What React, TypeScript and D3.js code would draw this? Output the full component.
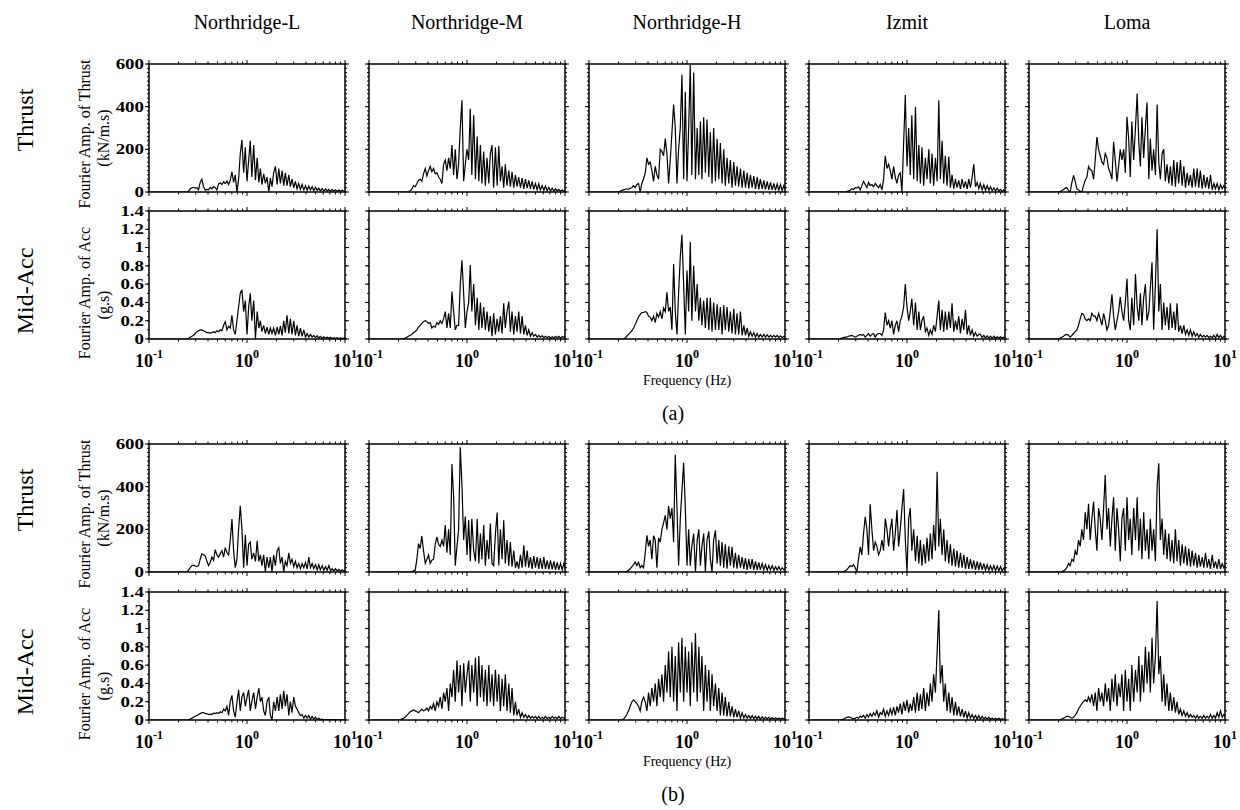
import React from 'react';
import * as d3 from 'd3';

// frequency bins (Hz) shared by all spectra
const freq = [0.1,0.2,0.208,0.216,0.225,0.234,0.243,0.253,0.263,0.274,0.285,0.296,0.308,0.32,0.333,0.346,0.36,0.375,0.39,0.405,0.421,0.438,0.456,0.474,0.493,0.513,0.533,0.555,0.577,0.6,0.624,0.649,0.675,0.702,0.73,0.759,0.79,0.821,0.854,0.888,0.924,0.961,1.0,1.04,1.08,1.12,1.17,1.22,1.27,1.32,1.37,1.42,1.48,1.54,1.6,1.67,1.73,1.8,1.87,1.95,2.03,2.11,2.19,2.28,2.37,2.46,2.56,2.67,2.77,2.88,3.0,3.12,3.24,3.37,3.51,3.65,3.8,3.95,4.11,4.27,4.44,4.62,4.8,5.0,5.2,5.4,5.6,5.85,6.08,6.32,6.58,6.84,7.11,7.4,7.7,8.0,8.32,8.65,9.0,9.36,9.74,10.0];

const events = ['Northridge-L', 'Northridge-M', 'Northridge-H', 'Izmit', 'Loma'];

// (a) thrust, kN/m.s
const thrustA_NL = [0,0,0,0,0,0,0,3,15,20, 22,18,20,10,45,60,25,8,12,10, 22,15,25,20,10,38,42,35,48,40, 52,35,55,95,45,80,0,60,180,245, 90,210,50,150,240,70,220,55,160,45, 110,35,85,40,70,0,65,25,90,120, 35,110,40,100,30,90,30,80,25,60, 20,50,15,40,12,35,10,30,8,28, 10,25,6,22,8,18,5,16,4,14, 5,12,3,12,4,10,3,9,3,8, 3,6];
const thrustA_NM = [0,0,0,0,0,0,0,2,5,15, 30,25,40,55,60,50,85,110,75,100, 120,95,110,85,90,70,60,40,130,150, 100,160,110,220,80,200,60,130,300,430, 50,130,200,150,390,80,360,60,260,50, 220,40,190,30,160,40,180,220,20,210, 30,215,50,120,20,130,30,100,25,95, 20,80,25,70,20,65,15,60,18,55, 15,50,12,40,10,38,10,30,8,28, 6,22,5,18,4,15,5,12,3,10, 4,6];
const thrustA_NH = [0,0,3,8,10,12,15,12,18,20, 30,20,35,40,0,40,60,90,160,130, 140,100,50,120,80,60,200,190,170,250, 180,40,150,280,410,300,40,200,300,550, 60,470,50,300,595,80,560,60,300,80, 330,60,350,90,340,70,280,40,300,50, 250,60,230,40,200,30,160,40,150,20, 140,30,120,25,110,20,100,20,90,15, 80,20,75,15,70,12,60,15,55,12, 50,10,45,10,40,8,38,8,35,6, 30,15];
const thrustA_IZ = [0,0,0,0,0,0,2,5,8,15, 12,20,18,25,10,30,50,35,20,45, 30,35,25,40,30,20,35,10,60,170, 110,130,100,60,120,70,40,80,90,0, 230,455,120,300,80,360,60,400,50,220, 40,210,30,160,60,200,40,180,30,160, 50,430,60,240,40,170,30,165,20,80, 15,60,20,55,15,60,20,50,15,60, 20,70,130,25,45,15,40,10,35,8, 30,8,25,6,20,5,18,4,12,3, 10,5];
const thrustA_LO = [0,0,3,6,12,18,20,8,0,45, 78,50,15,10,3,0,30,55,70,120, 105,100,60,150,258,200,170,140,130,180, 160,110,90,60,235,150,50,120,200,150, 200,90,353,250,70,330,150,300,462,230, 120,350,160,300,420,60,250,100,200,80, 410,140,60,180,200,50,130,40,120,30, 150,25,140,40,150,30,120,20,90,30, 80,20,110,25,110,20,100,15,80,20, 70,15,80,10,40,15,40,10,35,15, 30,20];

// (a) mid-depth acceleration, g.s
const accA_NL = [0,0,0,0,0,0,0,0.005,0.02,0.03, 0.04,0.06,0.08,0.09,0.1,0.1,0.09,0.08,0.07,0.07, 0.065,0.07,0.08,0.07,0.09,0.08,0.1,0.09,0.15,0.19, 0.1,0.14,0.12,0.26,0.1,0.05,0.2,0.35,0.5,0.54, 0.3,0.42,0.05,0.35,0.5,0.2,0.42,0,0.3,0.12, 0.2,0.08,0.15,0.06,0.13,0.05,0.12,0.06,0.12,0.04, 0.13,0.05,0.14,0.04,0.2,0.07,0.26,0.06,0.22,0.05, 0.2,0.04,0.15,0.03,0.12,0.03,0.1,0.02,0.06,0.02, 0.05,0.02,0.04,0.015,0.035,0.01,0.03,0.01,0.025,0.01, 0.02,0.008,0.02,0.005,0.015,0.005,0.015,0.005,0.012,0.005, 0.01,0.01];
const accA_NM = [0,0,0,0,0.005,0.01,0.02,0.03,0.04,0.05, 0.07,0.08,0.1,0.13,0.15,0.17,0.19,0.2,0.19,0.17, 0.18,0.12,0.14,0.13,0.18,0.16,0.2,0.17,0.22,0.3, 0.12,0.28,0.12,0.52,0.3,0.1,0.15,0.15,0.6,0.86, 0.5,0.12,0.3,0.4,0.81,0.3,0.6,0.15,0.45,0.1, 0.4,0.12,0.35,0.1,0.3,0.08,0.25,0.03,0.28,0.05, 0.22,0.08,0.25,0.06,0.39,0.12,0.3,0.41,0.08,0.3, 0.05,0.25,0.08,0.3,0.06,0.25,0.05,0.15,0.04,0.1, 0.03,0.07,0.03,0.05,0.02,0.04,0.02,0.035,0.015,0.03, 0.015,0.03,0.01,0.025,0.01,0.03,0.015,0.03,0.01,0.025, 0.02,0.02];
const accA_NH = [0,0,0,0,0,0.01,0.03,0.05,0.07,0.09, 0.12,0.16,0.2,0.24,0.27,0.29,0.29,0.3,0.29,0.25, 0.24,0.2,0.25,0.18,0.28,0.24,0.3,0.22,0.34,0.3, 0.51,0.3,0.35,0.1,0.82,0.3,0.05,0.5,0.9,1.14, 0.6,0.05,0.75,0.3,1.06,0.2,0.8,0.3,0.6,0.2, 0.45,0.15,0.42,0.12,0.45,0.1,0.45,0.08,0.4,0.1, 0.38,0.1,0.35,0.05,0.37,0.1,0.35,0.08,0.3,0.06, 0.33,0.05,0.28,0.05,0.3,0.04,0.15,0.04,0.12,0.03, 0.08,0.03,0.07,0.02,0.06,0.02,0.05,0.02,0.05,0.02, 0.045,0.02,0.04,0.02,0.04,0.02,0.04,0.015,0.035,0.015, 0.03,0.02];
const accA_IZ = [0,0,0.005,0.01,0.015,0.02,0.02,0.03,0.035,0.04, 0.03,0.02,0.03,0.04,0.05,0.04,0.05,0.02,0.04,0.06, 0.03,0.05,0.06,0.02,0.05,0.06,0.06,0.04,0.1,0.29, 0.15,0.2,0.12,0.2,0.05,0.15,0.2,0.08,0.2,0.25, 0.35,0.6,0.35,0.2,0.3,0.44,0.15,0.4,0.1,0.3, 0.1,0.2,0.25,0.08,0.12,0.04,0.1,0.05,0.15,0.08, 0.25,0.42,0.1,0.32,0.08,0.3,0.1,0.3,0.12,0.39, 0.08,0.2,0.1,0.25,0.06,0.22,0.1,0.32,0.05,0.15, 0.04,0.1,0.03,0.07,0.03,0.05,0.05,0.015,0.04,0.01, 0.035,0.01,0.03,0.01,0.03,0.01,0.025,0.01,0.025,0.01, 0.02,0.015];
const accA_LO = [0,0,0.01,0.02,0.03,0.045,0.05,0.04,0.02,0.04, 0.06,0.08,0.1,0.15,0.22,0.28,0.27,0.22,0.2,0.22, 0.2,0.28,0.25,0.25,0.2,0.28,0.22,0.15,0.28,0.2, 0.1,0.15,0.3,0.49,0.25,0.1,0.2,0.3,0.46,0.3, 0.2,0.4,0.66,0.2,0.1,0.45,0.15,0.71,0.35,0.2, 0.5,0.15,0.45,0.6,0.2,0.3,0.55,0.84,0.1,0.6, 1.2,0.3,0.6,0.1,0.4,0.15,0.35,0.1,0.39,0.12, 0.3,0.1,0.39,0.08,0.15,0.06,0.15,0.05,0.1,0.04, 0.1,0.03,0.08,0.03,0.06,0.02,0.05,0.02,0.04,0.02, 0.04,0.015,0.03,0.015,0.04,0.01,0.05,0.015,0.04,0.01, 0.03,0.02];

// (b) thrust
const thrustB_NL = [0,0,0,0,0,0,0,8,20,30, 32,28,25,30,60,85,82,75,50,30, 45,70,55,105,80,70,85,100,70,114, 90,80,150,248,100,20,60,200,310,200, 20,175,30,130,140,60,90,50,146,50, 80,30,80,0,70,20,70,0,80,30, 100,114,40,70,0,50,30,90,40,60, 25,50,20,40,15,40,20,45,15,70, 20,40,15,35,10,35,10,30,8,25, 8,30,6,15,5,15,5,12,4,10, 4,8];
const thrustB_NM = [0,0,0,0,0,0,0,0,0,2, 5,8,60,133,110,169,100,40,60,80, 40,55,60,130,165,130,120,150,120,220, 90,200,80,506,352,30,120,200,585,407, 150,260,80,243,50,250,100,50,250,40, 180,60,220,30,150,60,227,40,30,180, 279,30,200,60,243,40,150,30,140,25, 100,20,50,15,80,20,125,25,100,20, 70,15,75,20,70,15,65,15,70,15, 55,12,55,12,50,10,45,10,40,10, 40,20];
const thrustB_NH = [0,0,0,0,0,0,3,8,15,25, 35,47,30,45,20,30,20,90,172,120, 150,60,170,150,20,160,140,200,230,266, 200,309,250,300,140,549,300,30,250,380, 512,300,30,200,30,120,180,0,150,200, 30,120,180,0,150,190,60,0,150,195, 40,150,30,140,20,130,15,120,30,118, 20,90,15,80,20,70,15,65,10,60, 15,60,10,50,10,45,10,40,10,35, 8,30,10,30,8,25,10,25,8,20, 10,15];
const thrustB_IZ = [0,0,0,0,2,5,10,20,30,25, 35,20,0,60,118,80,180,259,200,80, 318,200,100,140,120,80,100,150,100,250, 200,120,200,250,100,180,290,120,200,300, 389,150,0,250,300,100,200,50,170,40, 150,30,130,40,160,50,180,60,220,100, 470,120,250,80,200,50,150,40,130,30, 110,25,100,20,90,20,80,15,70,15, 60,15,55,10,50,10,45,10,40,8, 35,8,30,8,30,6,28,6,25,5, 20,10];
const thrustB_LO = [0,0,0,2,5,10,20,40,30,60, 50,100,80,150,120,200,150,280,200,320, 150,250,330,200,100,300,250,150,300,455, 200,300,120,250,350,100,300,200,50,250, 300,100,350,150,250,80,300,150,350,100, 250,60,280,100,200,60,250,100,200,50, 400,510,150,250,80,200,60,180,50,150, 40,200,50,150,30,130,40,120,30,110, 25,100,30,90,20,80,25,70,20,90, 20,60,15,80,20,50,15,60,15,40, 20,30];

// (b) mid-depth acceleration
const accB_NL = [0,0,0,0,0,0,0,0.003,0.01,0.02, 0.03,0.04,0.05,0.06,0.07,0.08,0.08,0.07,0.07,0.06, 0.065,0.06,0.075,0.07,0.08,0.07,0.09,0.08,0.12,0.1, 0.15,0.05,0.2,0.27,0.1,0.03,0.2,0.33,0.1,0.25, 0.3,0.15,0.25,0.33,0.1,0.2,0.3,0.12,0.25,0.35, 0.2,0.25,0.1,0.05,0.2,0.25,0.05,0,0.2,0.1, 0.25,0.1,0.28,0.12,0.32,0.15,0.28,0.05,0.2,0.08, 0.25,0.15,0.12,0.08,0.05,0.06,0.02,0.05,0.02,0.05, 0.01,0.04,0.01,0.03,0.005,0.02,0.005,0.01,0.003,0.005, 0.003,0.005,0.002,0.004,0.002,0.003,0.002,0.003,0.002,0.002, 0.002,0.002];
const accB_NM = [0,0,0.005,0.01,0.02,0.03,0.05,0.07,0.09,0.1, 0.11,0.1,0.09,0.08,0.1,0.12,0.1,0.11,0.13,0.1, 0.15,0.12,0.18,0.1,0.2,0.15,0.25,0.12,0.3,0.2, 0.35,0.1,0.4,0.25,0.55,0.2,0.65,0.3,0.6,0.15, 0.62,0.3,0.5,0.65,0.2,0.6,0.3,0.68,0.15,0.7, 0.25,0.6,0.2,0.55,0.15,0.6,0.2,0.5,0.15,0.55, 0.2,0.5,0.1,0.45,0.15,0.5,0.1,0.4,0.08,0.35, 0.05,0.2,0.05,0.12,0.03,0.08,0.03,0.06,0.02,0.05, 0.02,0.04,0.02,0.04,0.015,0.04,0.015,0.03,0.015,0.04, 0.015,0.03,0.015,0.04,0.02,0.03,0.015,0.04,0.015,0.03, 0.02,0.02];
const accB_NH = [0,0,0,0,0.01,0.03,0.06,0.1,0.15,0.2, 0.22,0.2,0.18,0.15,0.1,0.2,0.25,0.2,0.1,0.3, 0.15,0.35,0.2,0.4,0.15,0.45,0.25,0.5,0.2,0.6, 0.3,0.75,0.25,0.8,0.2,0.7,0.1,0.85,0.3,0.9, 0.2,0.8,0.3,0.75,0.15,0.85,0.3,0.95,0.2,0.8, 0.3,0.7,0.1,0.6,0.2,0.55,0.1,0.5,0.15,0.4, 0.1,0.35,0.05,0.3,0.05,0.25,0.04,0.2,0.04,0.15, 0.03,0.12,0.03,0.1,0.02,0.08,0.02,0.06,0.02,0.05, 0.015,0.05,0.015,0.04,0.015,0.04,0.01,0.035,0.01,0.03, 0.01,0.03,0.01,0.025,0.01,0.025,0.01,0.02,0.01,0.02, 0.01,0.01];
const accB_IZ = [0,0,0,0.005,0.01,0.02,0.03,0.035,0.03,0.02, 0.01,0.02,0.03,0.02,0.04,0.03,0.05,0.02,0.06,0.03, 0.07,0.04,0.08,0.05,0.1,0.03,0.08,0.06,0.12,0.04, 0.1,0.05,0.12,0.06,0.14,0.05,0.15,0.08,0.18,0.06, 0.2,0.1,0.22,0.08,0.18,0.1,0.25,0.08,0.3,0.1, 0.28,0.12,0.35,0.1,0.3,0.15,0.4,0.2,0.5,0.3, 0.75,1.2,0.4,0.6,0.2,0.4,0.1,0.3,0.08,0.25, 0.05,0.2,0.05,0.15,0.04,0.12,0.03,0.1,0.02,0.08, 0.02,0.06,0.015,0.05,0.01,0.05,0.01,0.04,0.01,0.03, 0.01,0.03,0.008,0.02,0.008,0.02,0.005,0.02,0.005,0.015, 0.005,0.01];
const accB_LO = [0,0,0,0.01,0.02,0.03,0.04,0.04,0.03,0.02, 0.03,0.05,0.08,0.12,0.15,0.18,0.2,0.22,0.2,0.25, 0.2,0.28,0.15,0.3,0.1,0.35,0.2,0.3,0.15,0.4, 0.2,0.35,0.1,0.45,0.2,0.5,0.15,0.4,0.25,0.5, 0.1,0.55,0.2,0.45,0.1,0.6,0.2,0.55,0.3,0.7, 0.2,0.6,0.3,0.8,0.4,0.75,0.3,0.9,0.4,0.7, 1.3,0.5,0.7,0.2,0.5,0.15,0.4,0.1,0.3,0.1, 0.25,0.08,0.2,0.06,0.12,0.05,0.1,0.04,0.08,0.03, 0.06,0.03,0.05,0.02,0.05,0.02,0.04,0.02,0.05,0.02, 0.04,0.02,0.06,0.02,0.05,0.02,0.08,0.03,0.1,0.03, 0.06,0.04];

const thrustTicks = [0, 200, 400, 600];
const thrustTickLabels = ['0', '200', '400', '600'];
const accTicks = [0, 0.2, 0.4, 0.6, 0.8, 1, 1.2, 1.4];
const accTickLabels = ['0', '0.2', '0.4', '0.6', '0.8', '1', '1.2', '1.4'];
const decadeTicks = [0.1, 1, 10];
const decadeExp = ['-1', '0', '1'];

const FONT = '"Liberation Serif", "Times New Roman", serif';
const PW = 196;
const PH = 128;
const colX = [149, 369, 589, 809, 1029];

const rows = [
  { top: 64, kind: 'thrust', data: [thrustA_NL, thrustA_NM, thrustA_NH, thrustA_IZ, thrustA_LO], xLabels: false },
  { top: 211, kind: 'acc', data: [accA_NL, accA_NM, accA_NH, accA_IZ, accA_LO], xLabels: true, tag: '(a)' },
  { top: 444, kind: 'thrust', data: [thrustB_NL, thrustB_NM, thrustB_NH, thrustB_IZ, thrustB_LO], xLabels: false },
  { top: 592, kind: 'acc', data: [accB_NL, accB_NM, accB_NH, accB_IZ, accB_LO], xLabels: true, tag: '(b)' },
];

const x = d3.scaleLog().domain([0.1, 10]).range([0, PW]);
const yThrust = d3.scaleLinear().domain([0, 600]).range([PH, 0]);
const yAcc = d3.scaleLinear().domain([0, 1.4]).range([PH, 0]);

function Panel({ left, top, values, kind, showY, showX, id }) {
  const y = kind === 'thrust' ? yThrust : yAcc;
  const major = kind === 'thrust' ? thrustTicks : accTicks;
  const majorLabels = kind === 'thrust' ? thrustTickLabels : accTickLabels;
  const minor = y.ticks(kind === 'thrust' ? 30 : 14);
  const line = d3.line<number>()
    .x((_, i) => x(freq[i]))
    .y((v) => y(v));
  const xt = x.ticks();

  return (
    <g transform={`translate(${left},${top})`}>
      <clipPath id={id}><rect x={0} y={-1} width={PW} height={PH + 1} /></clipPath>
      <path d={line(values) || ''} fill="none" stroke="#000" strokeWidth={1.2} clipPath={`url(#${id})`} />
      <rect x={0} y={0} width={PW} height={PH} fill="none" stroke="#000" strokeWidth={1.5} />
      {xt.map((t, i) => {
        const len = Math.abs(Math.log10(t) - Math.round(Math.log10(t))) < 1e-6 ? 4 : 2.5;
        return (
          <g key={'x' + i}>
            <line x1={x(t)} x2={x(t)} y1={0} y2={-len} stroke="#000" strokeWidth={1} />
            <line x1={x(t)} x2={x(t)} y1={PH} y2={PH + len} stroke="#000" strokeWidth={1} />
          </g>
        );
      })}
      {minor.map((t, i) => (
        <g key={'m' + i}>
          <line x1={0} x2={-2} y1={y(t)} y2={y(t)} stroke="#000" strokeWidth={1} />
          <line x1={PW} x2={PW + 2} y1={y(t)} y2={y(t)} stroke="#000" strokeWidth={1} />
        </g>
      ))}
      {major.map((t, i) => (
        <g key={'M' + i}>
          <line x1={0} x2={-4} y1={y(t)} y2={y(t)} stroke="#000" strokeWidth={1} />
          <line x1={PW} x2={PW + 4} y1={y(t)} y2={y(t)} stroke="#000" strokeWidth={1} />
        </g>
      ))}
      {showY && major.map((t, i) => (
        <g key={'L' + i} transform={`translate(-5,${y(t)}) scale(1.35,1)`}>
          <text textAnchor="end" dy="0.35em" fontSize={14} fontWeight="bold" fontFamily={FONT}>
            {majorLabels[i]}
          </text>
        </g>
      ))}
      {showX && decadeTicks.map((t, i) => (
        <text key={'X' + i} x={x(t)} y={PH + 28} textAnchor="middle" fontSize={18} fontWeight="bold" fontFamily={FONT}>
          10<tspan dy={-9} fontSize={12}>{decadeExp[i]}</tspan>
        </text>
      ))}
    </g>
  );
}

export default function App() {
  return (
    <svg width={1240} height={810} style={{ position: 'absolute', left: 0, top: 0, background: '#fff' }}>
      <rect width={1240} height={810} fill="#fff" />
      {events.map((e, c) => (
        <text key={e} x={colX[c] + PW / 2} y={29} textAnchor="middle" fontSize={20} fontFamily={FONT}>{e}</text>
      ))}
      {rows.map((r, ri) => {
        const cy = r.top + PH / 2;
        const isThrust = r.kind === 'thrust';
        const lblCy = isThrust ? cy + 6 : cy + 18;
        const unitCy = isThrust ? cy + 10 : cy + 30;
        return (
          <g key={ri}>
            <text transform={`translate(33,${isThrust ? cy - 8 : cy + 16}) rotate(-90)`} textAnchor="middle"
              fontSize={24} fontFamily={FONT}>{isThrust ? 'Thrust' : 'Mid-Acc'}</text>
            <text transform={`translate(90,${lblCy}) rotate(-90)`} textAnchor="middle" fontSize={16} fontFamily={FONT}>
              {isThrust ? 'Fourier Amp. of Thrust' : 'Fourier Amp. of Acc'}
            </text>
            <text transform={`translate(109,${unitCy}) rotate(-90)`} textAnchor="middle" fontSize={16} fontFamily={FONT}>
              {isThrust ? '(kN/m.s)' : '(g.s)'}
            </text>
            {r.data.map((vals, c) => (
              <Panel key={c} id={`clip-${ri}-${c}`} left={colX[c]} top={r.top} values={vals} kind={r.kind}
                showY={c === 0} showX={r.xLabels} />
            ))}
            {r.xLabels && (
              <text x={colX[2] + PW / 2} y={r.top + PH + 46} textAnchor="middle" fontSize={14} fontFamily={FONT}>
                Frequency (Hz)
              </text>
            )}
            {r.tag && (
              <text x={673} y={r.top + PH + 81} textAnchor="middle" fontSize={20} fontFamily={FONT}>{r.tag}</text>
            )}
          </g>
        );
      })}
    </svg>
  );
}
